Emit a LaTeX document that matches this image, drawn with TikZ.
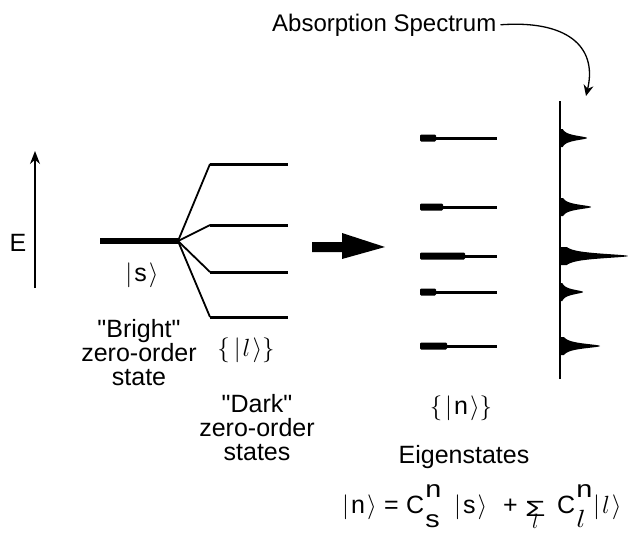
\documentclass[tikz,border=0pt]{standalone}
\usepackage{amsmath}
\usepackage{fontspec}
\setmainfont{Liberation Sans}
\usetikzlibrary{arrows.meta}
\newcommand{\ket}[1]{$|$\kern2pt#1\kern2pt$\rangle$}
\newcommand{\coef}[2]{C\hspace{1pt}{\fontsize{24}{24}\selectfont\rlap{\raisebox{16pt}{\scalebox{1.2}[1]{#1}}}\rlap{\raisebox{-14pt}{\scalebox{1.2}[1]{#2}}}}}
\newcommand{\sumterm}{\begin{tabular}[t]{@{}c@{}}\raisebox{-3pt}{\scalebox{1.5}[1]{\fontsize{22}{22}\selectfont Σ}}\\[-9pt]{\fontsize{22}{22}\selectfont$l$}\end{tabular}}

\begin{document}
\begin{tikzpicture}[
  x=1pt,y=-1pt,
  >=Stealth,
  txt/.style={align=center,inner sep=0pt,font=\fontsize{25}{24}\selectfont},
  lvl/.style={line width=3pt},
  fan/.style={line width=1.8pt},
  eig/.style={fill=black,rounded corners=1.2pt}
]
\useasboundingbox (0,0) rectangle (628,533);
\coordinate (e0) at (35,288);
\coordinate (e1) at (35,151);
\draw[line width=1.5pt,-{Stealth[length=13pt,width=10pt]}] (e0) -- (e1);
\node[txt] (elab) at (18,243) {E};
\coordinate (s0) at (100,241);
\coordinate (s) at (178,241);
\draw[line width=6pt] (s0) -- (s);
\foreach \ly [count=\i] in {164,225,272,317} {
  \coordinate (l\i) at (210,\ly);
  \draw[fan] (s) -- (l\i);
  \draw[lvl] (l\i) -- (288,\ly);
}
\node[txt] (sket) at (142,275) {\ket{s}};
\node[txt,anchor=base] (bright) at (139,385) {\textquotedbl Bright\textquotedbl\\zero-order\\state};
\node[txt] (lset) at (246,350) {$\{$\kern4pt\ket{$l$}$\}$};
\node[txt,anchor=base] (dark) at (257,460) {\textquotedbl Dark\textquotedbl\\zero-order\\states};
\coordinate (bigL) at (312,247);
\coordinate (bigR) at (385,247);
\fill (bigL) ++(0,-5) -- ++(30,0) -- ++(0,-9) -- (bigR) -- ++(-43,12) -- ++(0,-7) -- ++(-30,0) -- cycle;
\foreach \ey/\ew in {138/436,207/443,256/465,292/436,346/447} {
  \fill[eig] (420,\ey-3.5) rectangle (\ew,\ey+3.5);
  \draw[lvl] (420,\ey) -- (497,\ey);
}
\coordinate (sp0) at (560,379);
\coordinate (sp1) at (560,101);
\draw[line width=2pt] (sp0) -- (sp1);
\foreach \py/\ph in {138/27,207/31,256/68,292/23,346/40} {
  \fill (560,\py-9) -- plot[domain=-9:9,samples=61,smooth] ({560+\ph/(1+(\x/3)^2)},{\py+\x}) -- (560,\py+9) -- cycle;
}
\node[txt,anchor=base west,inner xsep=4pt,font=\fontsize{24}{24}\selectfont] (abs) at (268,31) {Absorption Spectrum};
\coordinate (sptip) at (586,96);
\draw[line width=1.3pt,-{Stealth[length=11pt,width=10pt]}] (abs.east) .. controls (565,20) and (598,45) .. (sptip);
\node[txt] (nset) at (461,408) {$\{$\kern3pt\ket{n}$\}$};
\node[txt,anchor=base] (eigen) at (464,463) {Eigenstates};
\node[txt,anchor=base west] (eq) at (342,513) {\makebox[42pt][l]{\ket{n}}\makebox[22pt][l]{=}\makebox[48pt][l]{\coef{n}{s}}\makebox[49pt][l]{\ket{s}}\makebox[22pt][l]{+}\makebox[32pt][l]{\sumterm}\makebox[36pt][l]{\coef{n}{$l$}}\ket{$l$}};
\end{tikzpicture}
\end{document}
